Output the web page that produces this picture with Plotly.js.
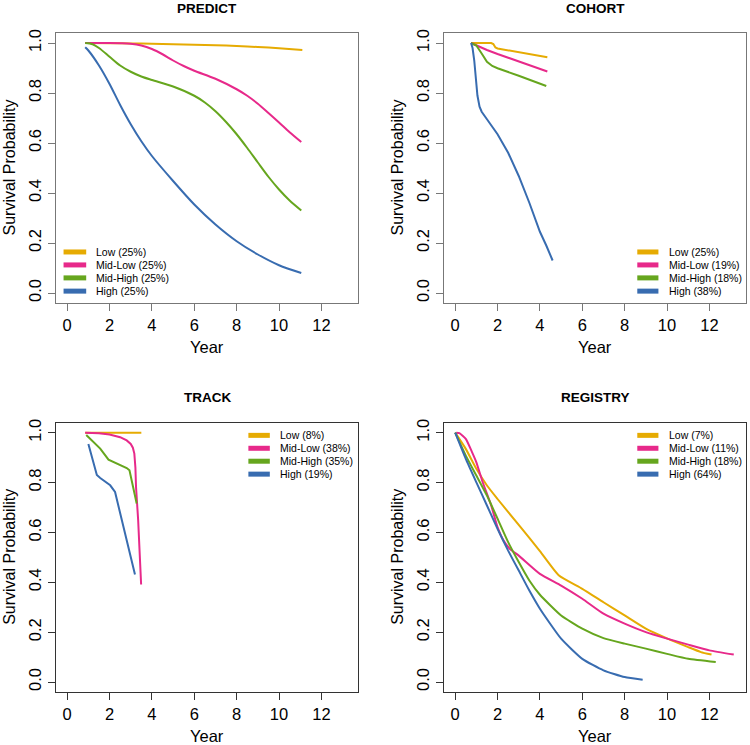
<!DOCTYPE html>
<html>
<head>
<meta charset="utf-8">
<script src="https://cdn.plot.ly/plotly-3.0.1.min.js"></script>
<style>html,body{margin:0;padding:0;background:#fff;}#chart{width:750px;height:745px;}</style>
</head>
<body>
<div id="chart"></div>
<script>
// ---------------- DATA ----------------
const groupNames = ["Low", "Mid-Low", "Mid-High", "High"];
const groupColors = ["#E6AB02", "#E7298A", "#66A61E", "#386CB0"];
const panelTitles = ["PREDICT", "COHORT", "TRACK", "REGISTRY"];
const xTicks = [0, 2, 4, 6, 8, 10, 12];
const yTicks = [0, 0.2, 0.4, 0.6, 0.8, 1.0];

const predictPct = ["25%", "25%", "25%", "25%"];
const cohortPct = ["25%", "19%", "18%", "38%"];
const trackPct = ["8%", "38%", "35%", "19%"];
const registryPct = ["7%", "11%", "18%", "64%"];

// PREDICT
const predictLowX = [0.85, 2, 3, 4, 5, 6, 7, 8, 9, 10, 11.1];
const predictLowY = [1.0, 0.999, 0.998, 0.997, 0.995, 0.993, 0.991, 0.988, 0.984, 0.979, 0.972];
const predictMidLowX = [0.85, 1.5, 2, 2.5, 3, 3.5, 4, 4.5, 5, 5.5, 6, 7, 8, 8.5, 9, 9.5, 10, 10.5, 11.05];
const predictMidLowY = [1, 1, 1, 0.999, 0.997, 0.99, 0.976, 0.955, 0.93, 0.908, 0.889, 0.857, 0.815, 0.789, 0.757, 0.72, 0.682, 0.643, 0.604];
const predictMidHighX = [0.85, 1.2, 1.5, 2, 2.5, 3, 3.5, 4, 5, 6, 6.5, 7, 7.5, 8, 8.5, 9, 9.5, 10, 10.5, 11.05];
const predictMidHighY = [1, 0.995, 0.98, 0.945, 0.91, 0.885, 0.866, 0.852, 0.826, 0.789, 0.762, 0.727, 0.684, 0.635, 0.58, 0.522, 0.465, 0.414, 0.37, 0.33];
const predictHighX = [0.85, 1, 1.5, 2, 2.5, 3, 3.5, 4, 5, 6, 7, 8, 9, 10, 11.05];
const predictHighY = [0.983, 0.97, 0.91, 0.836, 0.752, 0.675, 0.607, 0.548, 0.448, 0.354, 0.274, 0.207, 0.154, 0.111, 0.08];

// COHORT
const cohortLowX = [0.75, 1.7, 1.8, 1.9, 2.0, 3, 4.35];
const cohortLowY = [1, 1, 0.996, 0.982, 0.978, 0.964, 0.943];
const cohortMidLowX = [0.75, 1.0, 1.5, 2, 3, 4.35];
const cohortMidLowY = [1, 0.99, 0.972, 0.956, 0.926, 0.886];
const cohortMidHighX = [0.75, 1.0, 1.25, 1.5, 1.75, 2, 3, 4.3];
const cohortMidHighY = [1, 0.99, 0.958, 0.925, 0.908, 0.899, 0.869, 0.828];
const cohortHighX = [0.75, 0.82, 0.9, 0.97, 1.05, 1.15, 1.25, 1.5, 2, 2.5, 3, 3.5, 4, 4.3, 4.6];
const cohortHighY = [1, 0.98, 0.93, 0.86, 0.79, 0.745, 0.725, 0.695, 0.635, 0.561, 0.468, 0.361, 0.245, 0.19, 0.13];

// TRACK
const trackLowX = [0.85, 2, 3.5];
const trackLowY = [1, 1, 1];
const trackMidLowX = [0.85, 1.5, 2, 2.5, 2.81, 3.0, 3.1, 3.17, 3.22, 3.25, 3.35, 3.44, 3.49];
const trackMidLowY = [1, 0.998, 0.993, 0.982, 0.969, 0.955, 0.94, 0.916, 0.86, 0.782, 0.65, 0.515, 0.391];
const trackMidHighX = [0.9, 1.2, 1.56, 1.95, 2.2, 2.81, 2.94, 3.1, 3.28];
const trackMidHighY = [0.991, 0.965, 0.936, 0.892, 0.882, 0.858, 0.849, 0.79, 0.716];
const trackHighX = [1.0, 1.4, 1.56, 2.03, 2.26, 3.2];
const trackHighY = [0.955, 0.83, 0.818, 0.789, 0.762, 0.431];

// REGISTRY
const registryLowX = [0, 0.5, 1, 1.5, 2, 3, 4, 4.9, 6, 7, 8, 9, 10, 11, 11.6, 12.1];
const registryLowY = [1, 0.935, 0.855, 0.788, 0.734, 0.63, 0.525, 0.427, 0.374, 0.32, 0.267, 0.214, 0.175, 0.14, 0.12, 0.11];
const registryMidLowX = [0.05, 0.2, 0.5, 0.8, 1, 1.3, 1.7, 2, 2.3, 2.6, 3, 4, 5, 6, 7, 8, 9, 10, 11, 12, 13.15];
const registryMidLowY = [1, 0.998, 0.975, 0.921, 0.881, 0.801, 0.708, 0.621, 0.565, 0.532, 0.507, 0.434, 0.387, 0.334, 0.274, 0.234, 0.2, 0.174, 0.15, 0.127, 0.11];
const registryMidHighX = [0, 0.5, 1, 1.5, 2, 2.5, 3, 3.5, 4, 5, 6, 7, 8, 9, 10, 11, 12.3];
const registryMidHighY = [1, 0.908, 0.828, 0.748, 0.655, 0.561, 0.481, 0.407, 0.35, 0.267, 0.214, 0.176, 0.154, 0.134, 0.113, 0.093, 0.08];
const registryHighX = [0, 0.5, 1, 1.5, 2, 2.5, 3, 3.5, 4, 5, 6, 7, 8, 8.85];
const registryHighY = [1, 0.895, 0.801, 0.708, 0.614, 0.527, 0.447, 0.367, 0.294, 0.174, 0.093, 0.047, 0.02, 0.009];

// ---------------- BUILD ----------------
const W = 750, H = 745;
const px = v => v / W;
const py = v => 1 - v / H;
const FONT = "Liberation Sans, Arial, Helvetica, sans-serif";

const panels = [
  {xs: [predictLowX, predictMidLowX, predictMidHighX, predictHighX],
   ys: [predictLowY, predictMidLowY, predictMidHighY, predictHighY],
   pct: predictPct, shape: "spline", smooth: 0.8,
   box: [56, 358, 33, 303], legendPos: "bl", frame: "#777"},
  {xs: [cohortLowX, cohortMidLowX, cohortMidHighX, cohortHighX],
   ys: [cohortLowY, cohortMidLowY, cohortMidHighY, cohortHighY],
   pct: cohortPct, shape: "linear", smooth: 0,
   box: [444, 746, 33, 303], legendPos: "br", frame: "#777"},
  {xs: [trackLowX, trackMidLowX, trackMidHighX, trackHighX],
   ys: [trackLowY, trackMidLowY, trackMidHighY, trackHighY],
   pct: trackPct, shape: "linear", smooth: 0,
   box: [56, 358, 422.7, 692], legendPos: "tr", frame: "#333"},
  {xs: [registryLowX, registryMidLowX, registryMidHighX, registryHighX],
   ys: [registryLowY, registryMidLowY, registryMidHighY, registryHighY],
   pct: registryPct, shape: "spline", smooth: 0.5,
   box: [444, 746, 422.7, 692], legendPos: "tr", frame: "#333"}
];

const traces = [];
const layout = {
  width: W, height: H,
  margin: {l: 0, r: 0, t: 0, b: 0},
  paper_bgcolor: "#fff", plot_bgcolor: "#fff",
  showlegend: false,
  font: {family: FONT, color: "#000"},
  shapes: [], annotations: []
};

panels.forEach((p, i) => {
  const n = i === 0 ? "" : String(i + 1);
  const xa = "x" + n, ya = "y" + n;
  const [bl, br, bt, bb] = p.box;
  p.xs.forEach((xv, k) => {
    const line = {color: groupColors[k], width: 2, shape: p.shape};
    if (p.shape === "spline") line.smoothing = p.smooth;
    traces.push({
      type: "scatter", mode: "lines",
      x: xv, y: p.ys[k],
      xaxis: xa, yaxis: ya,
      name: groupNames[k] + " (" + p.pct[k] + ")",
      line: line,
      hoverinfo: "x+y+name"
    });
  });
  const common = {
    showline: true, mirror: true, linecolor: p.frame, linewidth: 1.2,
    ticks: "outside", ticklen: 7, tickwidth: 1, tickcolor: p.frame,
    showgrid: false, zeroline: false,
    tickfont: {size: 16.5, family: FONT, color: "#000"},
    fixedrange: true
  };
  layout["xaxis" + n] = Object.assign({}, common, {
    domain: [px(bl), px(br)], anchor: ya,
    range: [-0.528, 13.728], tickmode: "array", tickvals: xTicks,
    ticktext: xTicks.map(String)
  });
  layout["yaxis" + n] = Object.assign({}, common, {
    domain: [py(bb), py(bt)], anchor: xa,
    range: [-0.04, 1.04], tickmode: "array", tickvals: yTicks,
    ticktext: yTicks.map(v => v.toFixed(1)), tickangle: -90
  });
  // panel title
  layout.annotations.push({
    text: "<b>" + panelTitles[i] + "</b>", xref: "paper", yref: "paper",
    x: px((bl + br) / 2), y: py(bt - 25), xanchor: "center", yanchor: "middle",
    showarrow: false, font: {size: 13.5, family: FONT, color: "#000"}
  });
  // axis titles
  layout.annotations.push({
    text: "Year", xref: "paper", yref: "paper",
    x: px((bl + br) / 2), y: py(bb + 44), xanchor: "center", yanchor: "middle",
    showarrow: false, font: {size: 16.5, family: FONT, color: "#000"}
  });
  layout.annotations.push({
    text: "Survival Probability", xref: "paper", yref: "paper",
    x: px(bl - 46.5), y: py((bt + bb) / 2), xanchor: "center", yanchor: "middle",
    textangle: -90, showarrow: false, font: {size: 16, family: FONT, color: "#000"}
  });
  // legend (drawn as line keys + text, inside the plot box)
  let x0, x1, xt, rows;
  if (p.legendPos === "bl") { x0 = 0.025; x1 = 0.100; xt = 0.127; rows = [0.189, 0.141, 0.093, 0.044]; }
  else if (p.legendPos === "br") { x0 = 0.640; x1 = 0.710; xt = 0.738; rows = [0.189, 0.141, 0.093, 0.044]; }
  else { x0 = (i === 2 ? 0.637 : 0.640); x1 = (i === 2 ? 0.708 : 0.710); xt = (i === 2 ? 0.735 : 0.738); rows = [0.953, 0.905, 0.857, 0.809]; }
  groupNames.forEach((g, k) => {
    layout.shapes.push({
      type: "line", xref: xa + " domain", yref: ya + " domain",
      x0: x0, x1: x1, y0: rows[k], y1: rows[k],
      line: {color: groupColors[k], width: 5}
    });
    layout.annotations.push({
      text: g + " (" + p.pct[k] + ")", xref: xa + " domain", yref: ya + " domain",
      x: xt, y: rows[k], xanchor: "left", yanchor: "middle", showarrow: false,
      font: {size: 10.5, family: FONT, color: "#000"}
    });
  });
});

Plotly.newPlot("chart", traces, layout, {displayModeBar: false, staticPlot: true});
</script>
</body>
</html>
